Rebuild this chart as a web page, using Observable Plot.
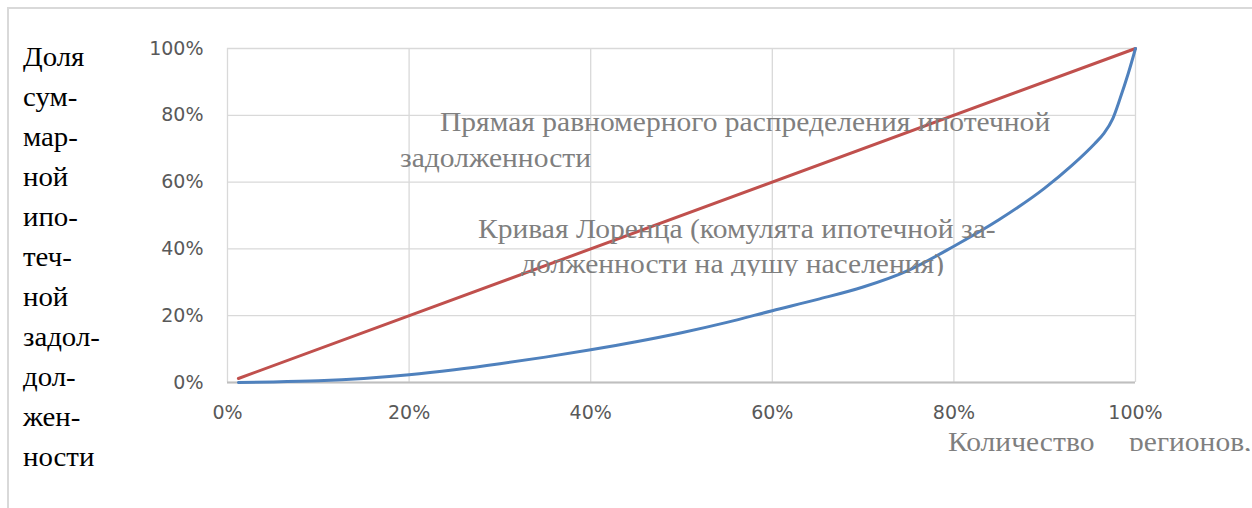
<!DOCTYPE html>
<html>
<head>
<meta charset="utf-8">
<script src="https://cdn.jsdelivr.net/npm/d3@7"></script>
<script src="https://cdn.jsdelivr.net/npm/@observablehq/plot@0.6"></script>
<style>
  html, body { margin: 0; padding: 0; background: #fff; overflow: hidden; }
  #wrap { position: relative; width: 1252px; height: 508px; overflow: hidden; }
  #frame { position: absolute; left: 7px; top: 7px; width: 1400px; height: 700px; border: 2px solid #d9d9d9; box-sizing: border-box; }
  #chart { position: absolute; left: 0; top: 0; }
  .serif { font-family: "Liberation Serif", "Times New Roman", "DejaVu Serif", serif; position: absolute; white-space: nowrap; }
  #ylab { left: 23px; top: 36.5px; font-size: 28px; line-height: 40px; color: #000; transform: scaleX(1.03); transform-origin: left top; }
  .ann { font-size: 28px; line-height: 28px; color: #7f7f7f; transform: scaleX(1.055); transform-origin: left top; }
  .clip { overflow: hidden; padding-top: 4px; }
</style>
</head>
<body>
<div id="wrap">
  <div id="frame"></div>
  <div id="chart"></div>
  <div id="ylab" class="serif"></div>
  <div id="notes"></div>
</div>
<script>
// Shares of regions (x, %) and cumulative mortgage debt (y, %)
const equalityX = [1.2, 100];
const equalityY = [1.2, 100];

const lorenzX = [1.2, 5, 10, 15, 20, 25, 30, 35, 40, 45, 50, 55, 60, 65, 70, 75, 80, 85, 90, 93, 95.5, 96.5, 97.5, 98.3, 99.2, 100];
const lorenzY = [0, 0.15, 0.5, 1.2, 2.3, 3.8, 5.6, 7.6, 9.8, 12.2, 14.9, 18, 21.5, 24.9, 28.6, 33.6, 40.8, 48.8, 58.2, 65, 71.5, 74.5, 79, 85, 92.5, 100];

const xTicks = [0, 20, 40, 60, 80, 100];
const xTickLabels = ["0%", "20%", "40%", "60%", "80%", "100%"];
const yTicks = [0, 20, 40, 60, 80, 100];
const yTickLabels = ["0%", "20%", "40%", "60%", "80%", "100%"];

const yTitleLines = ["Доля", "сум-", "мар-", "ной", "ипо-", "теч-", "ной", "задол-", "дол-", "жен-", "ности"];
const equalityLabel = ["Прямая равномерного распределения ипотечной", "задолженности"];
const lorenzLabel = ["Кривая Лоренца (комулята ипотечной за-", "долженности на душу населения)"];
const xTitle = ["Количество", "регионов,"];

const equality = equalityX.map((x, i) => ({x, y: equalityY[i]}));
const lorenz = lorenzX.map((x, i) => ({x, y: lorenzY[i]}));

const chart = Plot.plot({
  width: 1252,
  height: 508,
  marginLeft: 227,
  marginRight: 117,
  marginTop: 48,
  marginBottom: 126,
  style: { fontFamily: "DejaVu Sans", fontSize: "19px", color: "#595959", background: "transparent", overflow: "visible" },
  x: { domain: [0, 100], label: null },
  y: { domain: [0, 100], label: null },
  marks: [
    Plot.gridX(xTicks, { stroke: "#d9d9d9", strokeOpacity: 1, strokeWidth: 1.3 }),
    Plot.gridY(yTicks, { stroke: "#d9d9d9", strokeOpacity: 1, strokeWidth: 1.3 }),
    Plot.ruleY([0], { stroke: "#bfbfbf", strokeWidth: 2 }),
    Plot.line(equality, { x: "x", y: "y", stroke: "#C0504D", strokeWidth: 3 }),
    Plot.line(lorenz, { x: "x", y: "y", stroke: "#4F81BD", strokeWidth: 3, curve: "monotone-x" }),
    Plot.axisX({ ticks: xTicks, tickFormat: (d) => xTickLabels[xTicks.indexOf(d)], tickSize: 0, tickPadding: 23, label: null }),
    Plot.axisY({ ticks: yTicks, tickFormat: (d) => yTickLabels[yTicks.indexOf(d)], tickSize: 0, tickPadding: 24, label: null })
  ]
});
document.getElementById("chart").appendChild(chart);

document.getElementById("ylab").innerHTML = yTitleLines.join("<br>");

// Annotation lines: text, left, baseline, optional clip distance below baseline
const notes = document.getElementById("notes");
function addLine(text, left, baseline, clip) {
  const d = document.createElement("div");
  d.className = "serif ann";
  d.textContent = text;
  // line-height 28px at 28px Liberation Serif: baseline ≈ top + 23.45
  d.style.left = left + "px";
  if (clip == null) {
    d.style.top = (baseline - 23.45) + "px";
  } else {
    d.classList.add("clip");
    d.style.top = (baseline - 23.45 - 4) + "px";
    d.style.height = (23.45 + clip) + "px";
  }
  notes.appendChild(d);
}
addLine(equalityLabel[0], 440, 131);
addLine(equalityLabel[1], 400, 167);
addLine(lorenzLabel[0], 478, 238);
addLine(lorenzLabel[1], 521, 273, 3);
addLine(xTitle[0], 948, 451, 0.5);
addLine(xTitle[1], 1129, 451, 0.5);
</script>
</body>
</html>
